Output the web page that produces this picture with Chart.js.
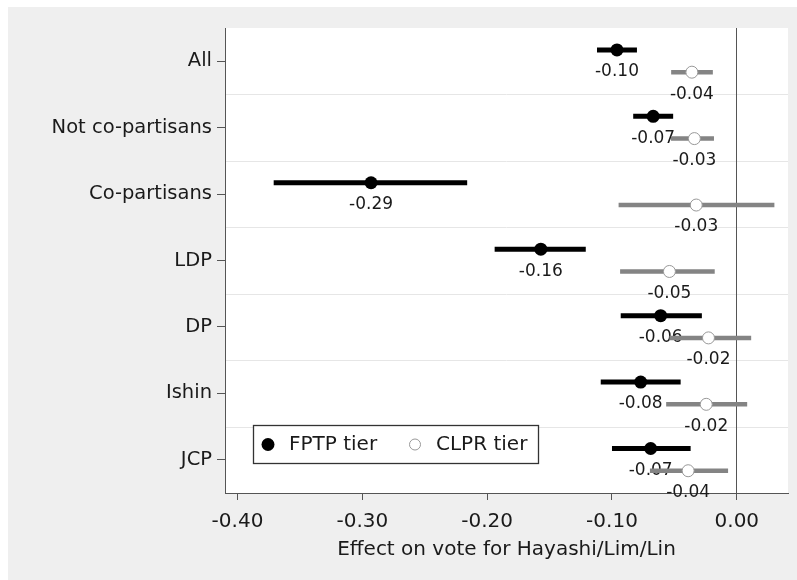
<!DOCTYPE html>
<html><head><meta charset="utf-8">
<script src="https://cdn.jsdelivr.net/npm/chart.js@4/dist/chart.umd.min.js"></script>
<style>html,body{margin:0;padding:0;background:#fff;} #wrap{width:797px;height:580px;position:relative;}</style>
</head><body><div id="wrap"><canvas id="c" width="797" height="580"></canvas></div>
<script>
const categories = ["All","Not co-partisans","Co-partisans","LDP","DP","Ishin","JCP"];
const fptpEst = [-0.096,-0.067,-0.293,-0.157,-0.061,-0.077,-0.069];
const fptpLo  = [-0.112,-0.083,-0.371,-0.194,-0.093,-0.109,-0.100];
const fptpHi  = [-0.080,-0.051,-0.216,-0.121,-0.028,-0.045,-0.037];
const clprEst = [-0.036,-0.034,-0.0325,-0.054,-0.0227,-0.0245,-0.039];
const clprLo  = [-0.0526,-0.0527,-0.0947,-0.0935,-0.054,-0.0566,-0.0696];
const clprHi  = [-0.0192,-0.0183,0.0301,-0.0177,0.0115,0.0083,-0.0070];
const xTicks = [-0.40,-0.30,-0.20,-0.10,0.00];
const seriesNames = ["FPTP tier","CLPR tier"];

const FONT = "'DejaVu Sans', Verdana, sans-serif";
const OFF_F = -0.17, OFF_C = 0.165;

function ciData(lo, hi, off){
  const out = [];
  lo.forEach((v,i)=>{ out.push({x:v,y:i+1+off},{x:hi[i],y:i+1+off},{x:null,y:null}); });
  return out;
}
function ptData(est, off){ return est.map((v,i)=>({x:v,y:i+1+off})); }

const bgPlugin = {
  id:'bg',
  beforeDraw(chart){
    const {ctx, chartArea:a, scales:{y}} = chart;
    ctx.save();
    ctx.fillStyle='#fff'; ctx.fillRect(0,0,chart.width,chart.height);
    ctx.fillStyle='#efefef'; ctx.fillRect(8,7,chart.width-8,chart.height-7);
    ctx.fillStyle='#fff'; ctx.fillRect(a.left,a.top,a.right-a.left,a.bottom-a.top);
    ctx.strokeStyle='#e6e6e6'; ctx.lineWidth=1;
    for(let k=1;k<categories.length;k++){
      const py = Math.round(y.getPixelForValue(k+0.5))+0.5;
      ctx.beginPath(); ctx.moveTo(a.left,py); ctx.lineTo(a.right,py); ctx.stroke();
    }
    ctx.restore();
  }
};

const labelPlugin = {
  id:'vlabels',
  afterDatasetDraw(chart, args){
    const ds = chart.data.datasets[args.index];
    if(!ds.valueLabels) return;
    const ctx = chart.ctx;
    ctx.save();
    ctx.font = "17px " + FONT;
    ctx.fillStyle = '#1a1a1a';
    ctx.textAlign='center'; ctx.textBaseline='middle';
    args.meta.data.forEach((pt,i)=>{
      ctx.fillText(ds.data[i].x.toFixed(2), pt.x, pt.y+22);
    });
    ctx.restore();
  }
};

const legendPlugin = {
  id:'boxlegend',
  afterDraw(chart){
    const {ctx, chartArea:a} = chart;
    const x0 = a.left+28, y0 = a.bottom-68, w = 285, h = 38;
    ctx.save();
    ctx.fillStyle='#fff'; ctx.fillRect(x0,y0,w,h);
    ctx.strokeStyle='#333'; ctx.lineWidth=1.3; ctx.strokeRect(x0+0.5,y0+0.5,w,h);
    const cy = y0 + h/2 + 0.5;
    ctx.beginPath(); ctx.arc(x0+15, cy, 6.5, 0, Math.PI*2); ctx.fillStyle='#000'; ctx.fill();
    ctx.beginPath(); ctx.arc(x0+162, cy, 5.5, 0, Math.PI*2); ctx.fillStyle='#fff'; ctx.fill();
    ctx.strokeStyle='#999'; ctx.lineWidth=1; ctx.stroke();
    ctx.font = "20px " + FONT; ctx.fillStyle='#1a1a1a';
    ctx.textAlign='left'; ctx.textBaseline='middle';
    ctx.fillText(seriesNames[0], x0+36, cy);
    ctx.fillText(seriesNames[1], x0+183, cy);
    ctx.restore();
  }
};

new Chart(document.getElementById('c'), {
  type:'scatter',
  data:{ datasets:[
    {label:seriesNames[0]+' CI', data:ciData(fptpLo,fptpHi,OFF_F), showLine:true, spanGaps:false,
     borderColor:'#000', borderWidth:5, borderCapStyle:'butt', pointRadius:0, order:4},
    {label:seriesNames[0], data:ptData(fptpEst,OFF_F), pointRadius:6.5, pointBackgroundColor:'#000',
     pointBorderColor:'#000', pointBorderWidth:0, valueLabels:true, order:3},
    {label:seriesNames[1]+' CI', data:ciData(clprLo,clprHi,OFF_C), showLine:true, spanGaps:false,
     borderColor:'#848484', borderWidth:4.5, borderCapStyle:'butt', pointRadius:0, order:2},
    {label:seriesNames[1], data:ptData(clprEst,OFF_C), pointRadius:6, pointBackgroundColor:'#fff',
     pointBorderColor:'#999', pointBorderWidth:1, valueLabels:true, order:1}
  ]},
  options:{
    responsive:false, animation:false,
    layout:{padding:{left:0,top:28,right:9,bottom:0}},
    plugins:{legend:{display:false}, tooltip:{enabled:false}},
    scales:{
      x:{ type:'linear', min:-0.41, max:0.041,
        afterBuildTicks:s=>{ s.ticks = xTicks.map(v=>({value:v})); },
        afterFit:s=>{ s.height = 87; },
        ticks:{ callback:v=>Number(v).toFixed(2), font:{family:FONT,size:20}, color:'#1a1a1a', padding:10, maxRotation:0, autoSkip:false },
        grid:{ drawOnChartArea:true, color:c=>(c.tick && c.tick.value===0)?'#555':'rgba(0,0,0,0)', tickColor:'#555', tickLength:7, lineWidth:1 },
        border:{ display:true, color:'#555', width:1 },
        title:{ display:true, text:'Effect on vote for Hayashi/Lim/Lin', font:{family:FONT,size:20}, color:'#1a1a1a', padding:{top:0,bottom:18} }
      },
      y:{ type:'linear', reverse:true, min:0.5, max:7.5,
        afterBuildTicks:s=>{ s.ticks = categories.map((c,i)=>({value:i+1})); },
        afterFit:s=>{ s.width = 225; },
        ticks:{ callback:v=>categories[Math.round(v)-1], font:{family:FONT,size:19.5}, color:'#1a1a1a', padding:5, autoSkip:false },
        grid:{ drawOnChartArea:false, tickColor:'#555', tickLength:8 },
        border:{ display:true, color:'#555', width:1 }
      }
    }
  },
  plugins:[bgPlugin, labelPlugin, legendPlugin]
});
</script>
</body></html>
